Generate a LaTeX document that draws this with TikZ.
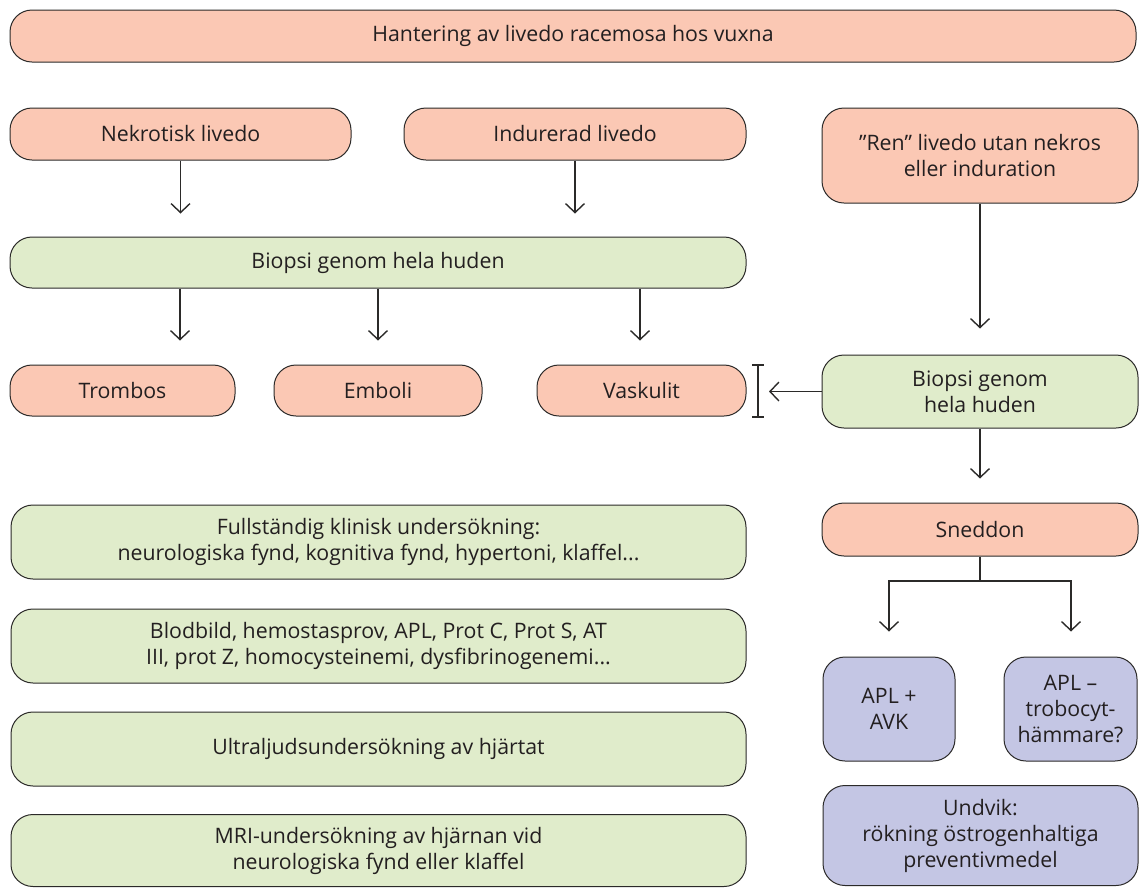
\documentclass[tikz,border=0pt]{standalone}
\usepackage{fontspec}
\setmainfont{Open Sans}
\usetikzlibrary{arrows.meta}
\definecolor{salmonc}{HTML}{FBC8B4}
\definecolor{greenc}{HTML}{E0ECCB}
\definecolor{purplec}{HTML}{C4C6E4}
\definecolor{linec}{HTML}{2B2A29}
\definecolor{textc}{HTML}{231F20}
\tikzset{
  box/.style={draw=linec, line width=1pt, rounded corners=22pt, align=center, inner sep=0pt,
    text=textc, font=\fontsize{21.3}{26}\selectfont},
  sbox/.style={box, fill=salmonc},
  gbox/.style={box, fill=greenc},
  pbox/.style={box, fill=purplec},
  conn/.style={draw=linec, line width=1.4pt, -{Straight Barb[length=9pt,width=19pt,line width=1.4pt]}},
  plain/.style={draw=linec, line width=1.4pt},
}
\begin{document}
\begin{tikzpicture}[x=1pt,y=-1pt]
\useasboundingbox (0,0) rectangle (1146,887);
\node[sbox, minimum width=1126pt, minimum height=52pt] (title) at (573,36) {Hantering av livedo racemosa hos vuxna};
\node[sbox, minimum width=341pt, minimum height=52pt] (nek) at (180.5,134) {Nekrotisk livedo};
\node[sbox, minimum width=342pt, minimum height=52pt] (ind) at (575,134) {Indurerad livedo};
\node[sbox, minimum width=316pt, minimum height=95pt] (ren) at (980,155.5) {”Ren” livedo utan nekros\\eller induration};
\node[gbox, minimum width=736pt, minimum height=51pt] (bio1) at (378,262.5) {Biopsi genom hela huden};
\node[sbox, minimum width=225pt, minimum height=51pt] (tromb) at (122.5,390.5) {Trombos};
\node[sbox, minimum width=208pt, minimum height=51pt] (emb) at (378,390.5) {Emboli};
\node[sbox, minimum width=209pt, minimum height=51pt] (vask) at (641.5,390.5) {Vaskulit};
\node[gbox, minimum width=316pt, minimum height=73pt] (bio2) at (980,391.5) {Biopsi genom\\hela huden};
\node[sbox, minimum width=316pt, minimum height=53pt] (sned) at (980,529.5) {Sneddon};
\node[pbox, minimum width=132pt, minimum height=104pt] (apl1) at (889,709) {APL +\\AVK};
\node[pbox, minimum width=133pt, minimum height=104pt] (apl2) at (1070.5,709) {APL –\\trobocyt-\\hämmare?};
\node[pbox, minimum width=315pt, minimum height=100pt] (undv) at (980.5,835.5) {Undvik:\\rökning östrogenhaltiga\\preventivmedel};
\node[gbox, minimum width=735pt, minimum height=74pt] (full) at (378.5,542) {Fullständig klinisk undersökning:\\neurologiska fynd, kognitiva fynd, hypertoni, klaffel...};
\node[gbox, minimum width=735pt, minimum height=74pt] (blod) at (378.5,646) {Blodbild, hemostasprov, APL, Prot C, Prot S, AT\\III, prot Z, homocysteinemi, dysfibrinogenemi...};
\node[gbox, minimum width=735pt, minimum height=74pt] (ultra) at (378.5,749) {Ultraljudsundersökning av hjärtat};
\node[gbox, minimum width=735pt, minimum height=72pt] (mri) at (378.5,850.5) {MRI-undersökning av hjärnan vid\\neurologiska fynd eller klaffel};
% arrows
\draw[conn] (nek.south) -- ++(0,53);
\draw[conn] (ind.south) -- ++(0,53);
\draw[conn] (bio1.south -| 180,0) -- ++(0,52);
\draw[conn] (bio1.south -| emb.north) -- ++(0,52);
\draw[conn] (bio1.south -| 640,0) -- ++(0,52);
\draw[conn] (ren.south) -- ++(0,125);
\draw[conn] (bio2.south) -- ++(0,50);
% bracket
\coordinate (bt) at (758,365);
\coordinate (bb) at (758,417);
\draw[plain] (bt) -- (bb);
\draw[plain] ([xshift=-6pt]bt) -- ([xshift=6pt]bt);
\draw[plain] ([xshift=-6pt]bb) -- ([xshift=6pt]bb);
\coordinate (bm) at (769,391.5);
\draw[conn] (bio2.west) -- (bm);
% sneddon split
\coordinate (sj) at (980,581);
\draw[plain] (sned.south) -- (sj);
\draw[conn] (sj) -| ([yshift=25pt]apl1.north);
\draw[conn] (sj) -| ([yshift=25pt]apl2.north -| 1071,0);
\end{tikzpicture}
\end{document}
